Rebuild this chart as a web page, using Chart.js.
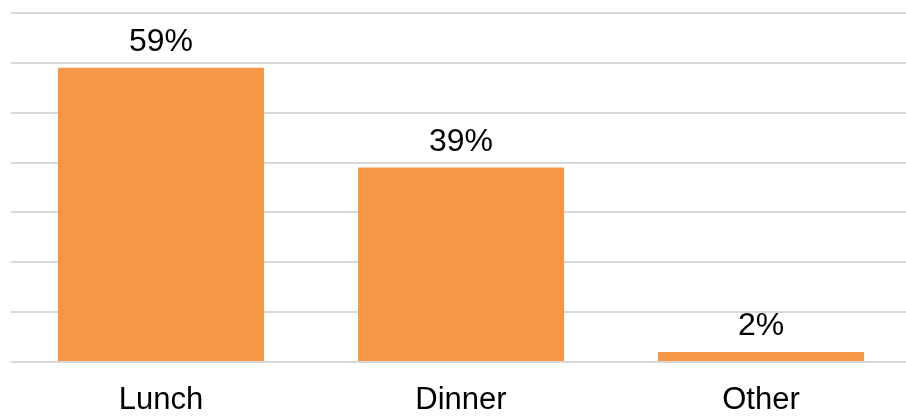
<!DOCTYPE html>
<html>
<head>
<meta charset="utf-8">
<script src="https://cdn.jsdelivr.net/npm/chart.js@4"></script>
<style>
  html, body { margin: 0; padding: 0; background: #fff; overflow: hidden; }
  #wrap { width: 911px; height: 416px; }
</style>
</head>
<body>
<div id="wrap"><canvas id="myChart"></canvas></div>
<script>
const categories = ['Lunch', 'Dinner', 'Other'];
const shares = [59, 39, 2];
const valueLabels = ['59%', '39%', '2%'];

const fontFamily = '"Liberation Sans", Arial, sans-serif';

// draws the percentage above each bar
const barLabels = {
    id: 'barLabels',
    afterDatasetsDraw(chart) {
        const ctx = chart.ctx;
        const meta = chart.getDatasetMeta(0);
        ctx.save();
        ctx.font = '32px ' + fontFamily;
        ctx.fillStyle = '#000';
        ctx.textAlign = 'center';
        ctx.textBaseline = 'alphabetic';
        meta.data.forEach((bar, i) => {
            ctx.fillText(valueLabels[i], bar.x, bar.y - 17);
        });
        ctx.restore();
    }
};

const ctx = document.getElementById('myChart').getContext('2d');
new Chart(ctx, {
    type: 'bar',
    data: {
        labels: categories,
        datasets: [{
            data: shares,
            backgroundColor: '#F79646',
            borderWidth: 0,
            categoryPercentage: 1,
            barPercentage: 0.687
        }]
    },
    options: {
        responsive: true,
        maintainAspectRatio: false,
        animation: false,
        layout: { padding: { left: 11, top: 13, right: 0, bottom: 0 } },
        plugins: {
            legend: { display: false },
            tooltip: { enabled: false }
        },
        scales: {
            x: {
                grid: { display: false, drawTicks: false },
                border: { display: false },
                ticks: {
                    color: '#000',
                    font: { family: fontFamily, size: 31 },
                    padding: 20
                },
                afterFit(scale) { scale.height = 54; }
            },
            y: {
                min: 0,
                max: 70,
                ticks: { display: false, stepSize: 10 },
                grid: { color: '#d9d9d9', lineWidth: 2, drawTicks: false },
                border: { display: false },
                afterFit(scale) { scale.width = 0; }
            }
        }
    },
    plugins: [barLabels]
});
</script>
</body>
</html>
